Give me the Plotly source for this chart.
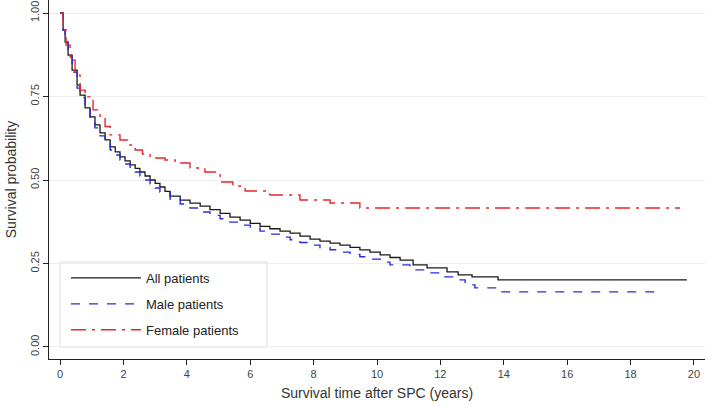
import plotly.graph_objects as go

# Kaplan-Meier step points (years, survival probability)
all_t = [0, 0.095, 0.158, 0.252, 0.379, 0.536, 0.631, 0.789, 0.946, 1.10, 1.26, 1.42, 1.58, 1.74, 1.89,
         2.05, 2.21, 2.37, 2.52, 2.68, 2.84, 3.0, 3.15, 3.31, 3.47, 3.79, 4.10, 4.42, 4.73, 5.05, 5.36,
         5.68, 6.0, 6.31, 6.62, 6.94, 7.26, 7.57, 7.89, 8.20, 8.52, 8.83, 9.15, 9.46, 9.78, 10.1,
         10.41, 10.73, 11.14, 11.58, 12.21, 12.56, 13.0, 13.82, 19.78]
all_s = [1.0, 0.949, 0.913, 0.874, 0.829, 0.784, 0.754, 0.716, 0.689, 0.665, 0.641, 0.620, 0.599, 0.584, 0.569,
         0.557, 0.545, 0.535, 0.524, 0.512, 0.500, 0.490, 0.479, 0.466, 0.452, 0.440, 0.431, 0.422, 0.411, 0.400, 0.389,
         0.380, 0.370, 0.361, 0.354, 0.347, 0.341, 0.332, 0.323, 0.317, 0.311, 0.305, 0.298, 0.291, 0.284, 0.276,
         0.268, 0.260, 0.246, 0.237, 0.225, 0.216, 0.210, 0.201, 0.201]

male_t = [0, 0.095, 0.158, 0.252, 0.379, 0.536, 0.631, 0.789, 0.946, 1.10, 1.26, 1.42, 1.58, 1.74, 1.89,
          2.05, 2.21, 2.37, 2.52, 2.68, 2.84, 3.0, 3.15, 3.47, 3.79, 4.10, 4.42, 4.73, 5.05, 5.36,
          5.68, 6.0, 6.31, 6.62, 6.94, 7.26, 7.57, 7.89, 8.20, 8.52, 8.83, 9.15, 9.46, 9.78, 10.1,
          10.41, 11.04, 11.51, 12.15, 12.46, 12.78, 13.09, 13.79, 18.83]
male_s = [1.0, 0.949, 0.913, 0.868, 0.823, 0.775, 0.746, 0.710, 0.680, 0.656, 0.632, 0.611, 0.590, 0.575, 0.560,
          0.548, 0.536, 0.524, 0.512, 0.500, 0.488, 0.476, 0.464, 0.443, 0.428, 0.416, 0.404, 0.394, 0.384, 0.374,
          0.365, 0.356, 0.347, 0.338, 0.329, 0.321, 0.313, 0.305, 0.298, 0.291, 0.284, 0.277, 0.270, 0.263, 0.254,
          0.246, 0.231, 0.222, 0.210, 0.201, 0.186, 0.177, 0.165, 0.165]

female_t = [0, 0.095, 0.189, 0.315, 0.473, 0.631, 0.789, 0.946, 1.04, 1.26, 1.42, 1.58, 1.89, 2.13, 2.37,
            2.60, 2.84, 3.31, 3.63, 4.10, 4.57, 5.05, 5.45, 5.84, 6.62, 7.57, 8.52, 9.46, 19.56]
female_s = [1.0, 0.949, 0.904, 0.859, 0.814, 0.769, 0.749, 0.740, 0.710, 0.686, 0.660, 0.635, 0.620, 0.605, 0.590,
            0.578, 0.566, 0.560, 0.551, 0.536, 0.524, 0.494, 0.482, 0.467, 0.455, 0.440, 0.431, 0.416, 0.416]

series_names = ["All patients", "Male patients", "Female patients"]
y_ticks = [0, 0.25, 0.5, 0.75, 1.0]
y_tick_labels = ["0.00", "0.25", "0.50", "0.75", "1.00"]
x_ticks = [0, 2, 4, 6, 8, 10, 12, 14, 16, 18, 20]

fig = go.Figure()
fig.add_trace(go.Scatter(x=all_t, y=all_s, mode="lines", name=series_names[0], legendgroup="a",
                         line=dict(color="#1a1a1a", width=1.3, shape="hv")))
fig.add_trace(go.Scatter(x=male_t, y=male_s, mode="lines", name=series_names[1], legendgroup="b",
                         line=dict(color="#2a2ae0", width=1.4, shape="hv", dash="dash")))
fig.add_trace(go.Scatter(x=female_t, y=female_s, mode="lines", name=series_names[2], legendgroup="c",
                         line=dict(color="#e8262b", width=1.4, shape="hv", dash="longdashdot")))

# legend frame (wider than plotly's auto-sized legend box)
fig.add_shape(type="rect", xref="paper", yref="paper",
              x0=11 / 656, x1=218 / 656, y0=12 / 359, y1=97 / 359,
              line=dict(color="#dddddd", width=1), fillcolor="white", layer="below")

font_fam = "Liberation Sans, Arial, sans-serif"
fig.update_layout(
    width=709, height=406,
    margin=dict(l=49, r=4, t=0, b=47),
    paper_bgcolor="white", plot_bgcolor="white",
    font=dict(family=font_fam, color="#333333"),
    showlegend=True,
    legend=dict(x=17 / 656, y=14 / 359, xanchor="left", yanchor="bottom",
                borderwidth=0, bgcolor="rgba(0,0,0,0)",
                font=dict(size=13, color="#222222"), itemwidth=70,
                tracegroupgap=6, traceorder="grouped"),
    xaxis=dict(range=[-0.35, 20.35], tickvals=x_ticks, showgrid=False, zeroline=False,
               automargin=False,
               showline=True, linecolor="#222222", linewidth=1.2, ticks="outside",
               ticklen=5, tickcolor="#222222", tickfont=dict(size=11, color="#444444"),
               title=dict(text="Survival time after SPC (years)", font=dict(size=14, color="#333333"),
                          standoff=8)),
    yaxis=dict(range=[-0.036, 1.039], tickvals=y_ticks, ticktext=y_tick_labels, tickangle=-90,
               showgrid=True, gridcolor="#eaeef0", gridwidth=1, zeroline=False,
               automargin=False,
               showline=True, linecolor="#222222", linewidth=1.2, ticks="outside",
               ticklen=5, tickcolor="#222222", tickfont=dict(size=11, color="#444444"),
               title=dict(text="Survival probability", font=dict(size=14, color="#333333"),
                          standoff=8)),
)

fig.write_html("out.html", config={"displayModeBar": False},
               post_script="document.body.style.margin='0';")
